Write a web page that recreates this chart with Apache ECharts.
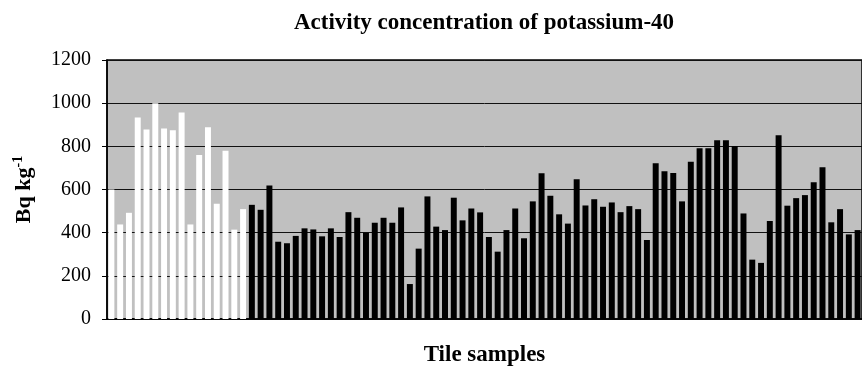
<!DOCTYPE html>
<html>
<head>
<meta charset="utf-8">
<title>Activity concentration of potassium-40</title>
<script src="https://cdn.jsdelivr.net/npm/echarts@6/dist/echarts.min.js"></script>
<style>
  html, body { margin: 0; padding: 0; background: #fff; }
  #chart { width: 862px; height: 372px; }
</style>
</head>
<body>
<div id="chart"></div>
<script>
// first group of tiles (white bars)
const whiteValues = [600, 438, 492, 934, 878, 1000, 883, 874, 957, 438, 760, 888, 534, 780, 414, 509];
// remaining tiles (black bars)
const blackValues = [
  529, 506, 618, 358, 351, 385, 420, 415, 383, 420,
  380, 495, 469, 400, 446, 469, 446, 517, 162, 326,
  568, 428, 412, 562, 457, 512, 494, 380, 312, 412,
  512, 374, 545, 675, 571, 485, 442, 648, 526, 555,
  520, 540, 495, 523, 509, 366, 722, 685, 677, 545,
  729, 791, 791, 828, 828, 802, 489, 275, 260, 454,
  851, 525, 560, 574, 634, 703, 448, 509, 392, 412
];
const yTicks = [0, 200, 400, 600, 800, 1000, 1200];

const samples = [];
for (let i = 1; i <= whiteValues.length + blackValues.length; i++) {
  samples.push("S" + i);
}

const barData = whiteValues
  .map((v) => ({ value: v, itemStyle: { color: "#ffffff" } }))
  .concat(blackValues.map((v) => ({ value: v, itemStyle: { color: "#000000" } })));

const serif = "'Liberation Serif', 'Times New Roman', serif";

const chart = echarts.init(document.getElementById("chart"));
chart.setOption({
  animation: false,
  title: {
    text: "Activity concentration of potassium-40",
    left: 479,
    top: 7,
    textAlign: "center",
    textStyle: {
      fontFamily: serif,
      fontWeight: "bold",
      fontSize: 23,
      color: "#000",
    },
  },
  grid: {
    left: 107,
    right: -6,
    top: 60,
    bottom: 52,
    show: true,
    backgroundColor: "#c0c0c0",
    borderColor: "#000",
    borderWidth: 1.5,
  },
  xAxis: {
    type: "category",
    data: samples,
    name: "Tile samples",
    nameLocation: "middle",
    nameGap: 25,
    nameTextStyle: {
      fontFamily: serif,
      fontWeight: "bold",
      fontSize: 23,
      color: "#000",
    },
    axisLine: { show: true, lineStyle: { color: "#000", width: 1.5 } },
    axisTick: { show: false },
    axisLabel: { show: false },
  },
  yAxis: {
    type: "value",
    min: yTicks[0],
    max: yTicks[yTicks.length - 1],
    interval: 200,
    name: "{a|Bq kg}{b|-1}",
    nameLocation: "middle",
    nameGap: 70,
    nameTextStyle: {
      rich: {
        a: {
          fontFamily: serif,
          fontWeight: "bold",
          fontSize: 22,
          color: "#000",
          lineHeight: 26,
        },
        b: {
          fontFamily: serif,
          fontWeight: "bold",
          fontSize: 14,
          color: "#000",
          verticalAlign: "top",
          lineHeight: 26,
        },
      },
    },
    axisLine: { show: true, lineStyle: { color: "#000", width: 1.5 } },
    axisTick: { show: true, inside: false, length: 5, lineStyle: { color: "#000" } },
    axisLabel: {
      margin: 16,
      fontFamily: serif,
      fontSize: 20,
      color: "#000",
      formatter: (v) => String(v),
    },
    splitLine: { show: true, lineStyle: { color: "#111", width: 1 } },
  },
  series: [
    {
      type: "bar",
      data: barData,
      barCategoryGap: "32%",
    },
  ],
});
</script>
</body>
</html>
